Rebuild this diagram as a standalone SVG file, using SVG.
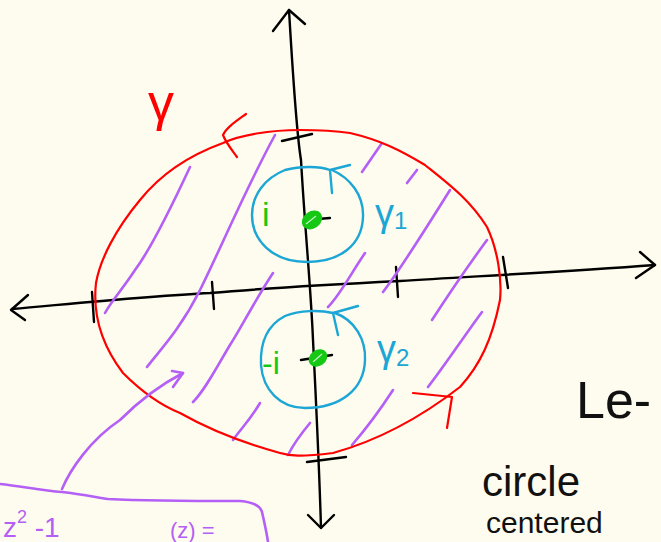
<svg xmlns="http://www.w3.org/2000/svg" width="661" height="542" viewBox="0 0 661 542">
<style>
.s{fill:none;stroke-linecap:round;stroke-linejoin:round}
.ax{stroke:#000;stroke-width:2.4}
.red{stroke:#f00;stroke-width:2.2}
.blue{stroke:#1ba6d6;stroke-width:2.4}
.pur{stroke:#b45ff5;stroke-width:2.6}
.grn{stroke:#14c814;stroke-width:2.6}
.hand{font-family:"Liberation Sans","DejaVu Sans",sans-serif}
</style>
<rect width="661" height="542" fill="#fefcee"/>
<g id="axes">
<path class="s ax" d="M289 10 C292 60 296 130 301 160 C305 230 311 290 313 340 C316 400 319 460 321 528"/>
<path class="s ax" d="M273 31 L289 10 L305 24"/>
<path class="s ax" d="M308 515 L321 528 L334 515"/>
<path class="s ax" d="M12 309 C80 303 150 296 210 293 C280 287 340 284 400 281 C480 276 560 272 655 265"/>
<path class="s ax" d="M28 295 L11 310 L25 320"/>
<path class="s ax" d="M640 252 L655 265 L636 278"/>
<path class="s ax" d="M92 292 L94 322 M212 282 L214 309 M396 267 L398 297 M503 257 L508 288"/>
<path class="s ax" d="M282 141 L312 134 M305 220 L330 218 M301 360 L332 355 M307 462 L346 457"/>
</g>
<g id="hatch">
<path class="s pur" d="M190 167 C170 210 150 250 135 270 C122 290 112 300 105 313"/>
<path class="s pur" d="M275 135 C245 190 220 250 200 290 C180 330 160 350 147 367"/>
<path class="s pur" d="M273 273 C255 300 240 330 230 345 C215 370 205 390 193 402"/>
<path class="s pur" d="M260 403 C250 420 240 430 233 440"/>
<path class="s pur" d="M310 423 C300 435 293 445 288 455"/>
<path class="s pur" d="M365 253 C350 275 340 295 328 307"/>
<path class="s pur" d="M382 143 L362 172"/>
<path class="s pur" d="M417 170 L407 183"/>
<path class="s pur" d="M450 190 C425 230 400 270 383 292"/>
<path class="s pur" d="M487 240 C465 270 445 300 432 320"/>
<path class="s pur" d="M482 312 C465 335 445 365 428 387"/>
<path class="s pur" d="M393 390 C380 410 365 430 352 445"/>
</g>
<g id="gamma">
<path class="s red" d="M300 130 C270 130 240 135 223 143 C190 155 160 175 140 200 C115 230 100 260 96 283 C93 310 98 340 123 373 C140 390 160 405 180 413 C210 430 240 442 280 453 C290 456 300 457 333 453 C380 440 420 418 460 387 C480 365 492 340 500 300 C502 280 498 250 487 227 C470 200 450 185 425 165 C400 150 380 140 350 133 C330 130 315 130 300 130 Z"/>
<path class="s red" d="M246 114 C235 122 226 128 223 135 C226 143 232 150 237 157"/>
<path class="s red" d="M413 393 L452 397 L447 428"/>
<text class="hand" x="148" y="120" font-size="52" fill="#f00">γ</text>
</g>
<g id="gamma1">
<path class="s blue" d="M330 170 C320 166 300 166 285 170 C265 178 252 195 252 215 C252 240 272 262 307 262 C340 262 362 245 363 217 C364 195 350 178 332 170"/>
<path class="s blue" d="M350 165 L330 170 L332 193"/>
<text class="hand" x="375" y="226" font-size="38" fill="#1ba6d6">γ<tspan font-size="24" dy="3">1</tspan></text>
</g>
<g id="gamma2">
<path class="s blue" d="M333 313 C320 310 300 310 285 316 C266 326 260 345 261 365 C263 390 280 408 305 408 C340 408 364 390 365 360 C366 340 355 320 335 313"/>
<path class="s blue" d="M358 306 L333 313 L338 335"/>
<text class="hand" x="377" y="362" font-size="38" fill="#1ba6d6">γ<tspan font-size="24" dy="4">2</tspan></text>
</g>
<g id="pole-i">
<ellipse cx="312" cy="220" rx="11" ry="8.5" transform="rotate(-35 312 220)" fill="#14c814"/>
<path d="M306 224 L316 216" stroke="#c8f0c8" stroke-width="1.2" fill="none"/>
<text class="hand" x="262" y="226" font-size="34" fill="#14c814">i</text>
</g>
<g id="pole-minus-i">
<ellipse cx="318" cy="358" rx="10" ry="8" transform="rotate(-35 318 358)" fill="#14c814"/>
<path d="M313 362 L322 354" stroke="#c8f0c8" stroke-width="1.2" fill="none"/>
<text class="hand" x="262" y="374" font-size="32" fill="#14c814">-i</text>
</g>
<g id="arrow-note">
<path class="s pur" d="M62 489 C70 470 90 440 120 420 C140 400 160 385 183 373"/>
<path class="s pur" d="M172 371 L183 373 L173 387"/>
<path class="s pur" d="M0 484 C20 486 40 490 62 492 C80 494 95 497 108 499 C150 501 200 501 240 501 C252 502 260 505 262 512 C265 525 267 535 268 542"/>
<text class="hand" x="3" y="537" font-size="28" fill="#b45ff5">z<tspan font-size="18" dy="-14">2</tspan><tspan dy="14"> -1</tspan></text>
<text class="hand" x="170" y="538" font-size="22" fill="#b45ff5">(z) =</text>
</g>
<g id="notes">
<text class="hand" x="576" y="418" font-size="52" fill="#111">Le-</text>
<text class="hand" x="482" y="496" font-size="42" fill="#111">circle</text>
<text class="hand" x="486" y="533" font-size="30" fill="#111">centered</text>
</g>
</svg>
